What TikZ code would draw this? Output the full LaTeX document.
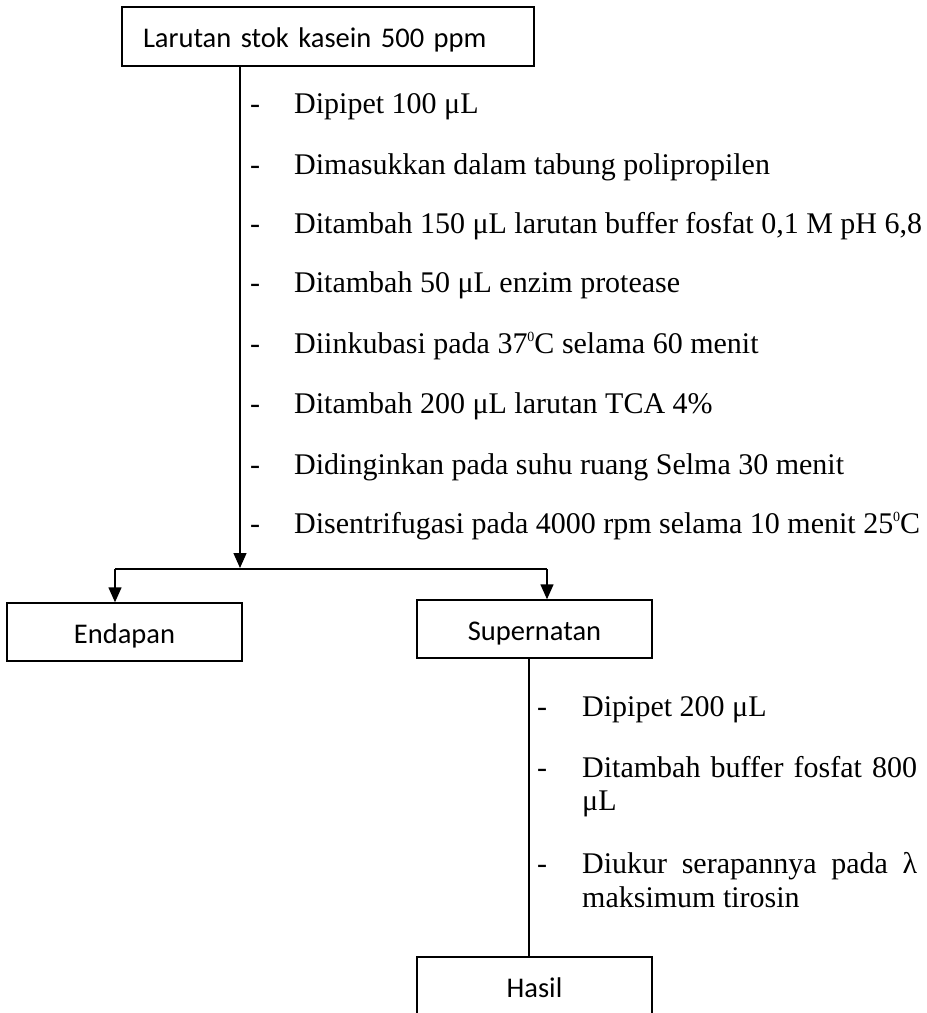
\documentclass[tikz,border=0pt]{standalone}
\usepackage{fontspec}
\setmainfont{Liberation Serif}
\newfontfamily\calibrifont{Carlito}
\usetikzlibrary{arrows.meta}
\newcommand{\degsup}{\raisebox{11.5pt}{\fontsize{14}{14}\selectfont 0}}
\begin{document}
\begin{tikzpicture}[x=1pt,y=-1pt,
  box/.style={draw,line width=1.4pt,minimum width=235pt,minimum height=58pt,inner sep=0pt,
    text height=22pt,text depth=0pt,font=\calibrifont\fontsize{28.5}{34}\selectfont},
  txt/.style={anchor=base west,inner sep=0pt,font=\fontsize{30}{34}\selectfont},
  conn/.style={line width=1.4pt},
  arr/.style={conn,-{Triangle[length=15pt,width=13pt]}}]
\useasboundingbox (0,0) rectangle (927,1013);
\clip (0,0) rectangle (927,1013);

% boxes
\node[box,minimum height=59pt,text width=370pt,inner xsep=21pt,align=left] (top) at (328,36.5) {Larutan stok kasein 500 ppm};
\node[box] (endapan) at (124.5,632) {Endapan};
\node[box] (supernatan) at (534.5,629) {Supernatan};
\node[box] (hasil) at (534.5,986) {Hasil};

% connectors
\coordinate (main) at (240,568);
\coordinate (bl) at (115,569);
\coordinate (br) at (547,569);
\coordinate (sx) at (529,700);
\draw[arr] (top.south -| main) -- (main);
\draw[conn] (bl) -- (br);
\draw[arr] (bl) -- (bl |- endapan.north);
\draw[arr] (br) -- (br |- supernatan.north);
\draw[conn] (supernatan.south -| sx) -- (hasil.north -| sx);

% first list
\node[txt] (d1) at (250,113) {-};
\node[txt] (t1) at (294,113) {Dipipet 100 μL};
\node[txt] (d2) at (250,174) {-};
\node[txt] (t2) at (294,174) {Dimasukkan dalam tabung polipropilen};
\node[txt] (d3) at (250,233) {-};
\node[txt] (t3) at (294,233) {Ditambah 150 μL larutan buffer fosfat 0,1 M pH 6,8};
\node[txt] (d4) at (250,292) {-};
\node[txt] (t4) at (294,292) {Ditambah 50 μL enzim protease};
\node[txt] (d5) at (250,353) {-};
\node[txt] (t5) at (294,353) {Diinkubasi pada 37\degsup C selama 60 menit};
\node[txt] (d6) at (250,413) {-};
\node[txt] (t6) at (294,413) {Ditambah 200 μL larutan TCA 4\%};
\node[txt] (d7) at (250,474) {-};
\node[txt] (t7) at (294,474) {Didinginkan pada suhu ruang Selma 30 menit};
\node[txt] (d8) at (250,533) {-};
\node[txt] (t8) at (294,533) {Disentrifugasi pada 4000 rpm selama 10 menit 25\degsup C};

% second list
\node[txt] (e1) at (537,716) {-};
\node[txt] (u1) at (582,716) {Dipipet 200 μL};
\node[txt] (e2) at (537,777) {-};
\node[txt] (u2) at (582,777) {\makebox[335pt][s]{Ditambah buffer fosfat 800}};
\node[txt] (u2b) at (582,810) {μL};
\node[txt] (e3) at (537,873) {-};
\node[txt] (u3) at (582,873) {\makebox[335pt][s]{Diukur serapannya pada λ}};
\node[txt] (u3b) at (582,907) {maksimum tirosin};
\end{tikzpicture}
\end{document}
